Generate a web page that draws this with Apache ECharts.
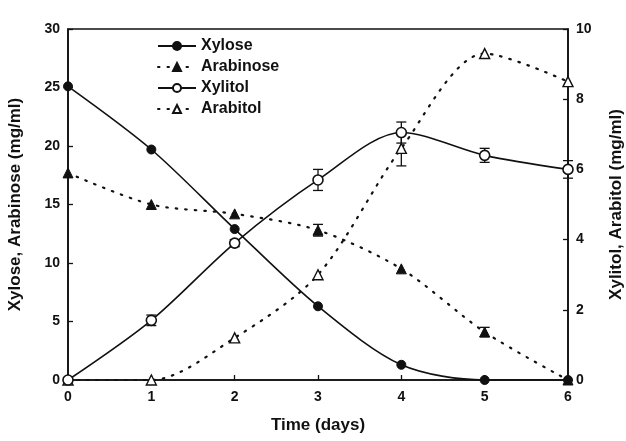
<!DOCTYPE html>
<html><head><meta charset="utf-8">
<script src="https://cdn.jsdelivr.net/npm/echarts@6/dist/echarts.min.js"></script>
<style>html,body{margin:0;padding:0;background:#fff}#c{width:626px;height:441px}</style>
</head><body><div id="c"></div>
<script>
const days = [0, 1, 2, 3, 4, 5, 6];
const xylose = [25.1, 19.7, 12.9, 6.3, 1.3, 0, 0];
const arabinose = [17.7, 15.0, 14.2, 12.8, 9.5, 4.1, 0];
const xylitol = [0, 1.7, 3.9, 5.7, 7.05, 6.4, 6.0];
const arabitol = [0, 0, 1.2, 3.0, 6.6, 9.3, 8.5];
const xylitolErr = [0, 0.15, 0.1, 0.3, 0.3, 0.2, 0.25];
const arabitolErr = [0, 0, 0, 0, 0.5, 0, 0];
const arabinoseErr = [0, 0, 0, 0.5, 0, 0.4, 0];
const leftTicks = [0, 5, 10, 15, 20, 25, 30];
const rightTicks = [0, 2, 4, 6, 8, 10];

const F = 'Liberation Sans, Arial, sans-serif';
const pairs = (ys) => days.map((d, i) => [d, ys[i]]);
const errData = (ys, es) => days.map((d, i) => [d, ys[i], es[i]]).filter(r => r[2] > 0);

function errSeries(ys, es, yIdx) {
  return {
    type: 'custom', yAxisIndex: yIdx, z: 1, silent: true,
    data: errData(ys, es),
    renderItem: function (params, api) {
      const x = api.value(0), y = api.value(1), e = api.value(2);
      const hi = api.coord([x, y + e]), lo = api.coord([x, y - e]);
      const w = 5;
      return {
        type: 'group', children: [
          {type: 'line', shape: {x1: hi[0], y1: hi[1], x2: lo[0], y2: lo[1]}, style: {stroke: '#111', lineWidth: 1.3}},
          {type: 'line', shape: {x1: hi[0]-w, y1: hi[1], x2: hi[0]+w, y2: hi[1]}, style: {stroke: '#111', lineWidth: 1.3}},
          {type: 'line', shape: {x1: lo[0]-w, y1: lo[1], x2: lo[0]+w, y2: lo[1]}, style: {stroke: '#111', lineWidth: 1.3}}
        ]
      };
    }
  };
}

const chart = echarts.init(document.getElementById('c'));
chart.setOption({
  animation: false,
  backgroundColor: '#fff',
  grid: {left: 68, right: 58, top: 29, bottom: 61, containLabel: false, outerBoundsMode: 'none',
    show: true, borderColor: '#111', borderWidth: 1.6, backgroundColor: 'transparent'},
  legend: {
    orient: 'vertical', left: 152, top: 33, itemGap: 5, itemWidth: 38, itemHeight: 10,
    textStyle: {fontFamily: F, fontWeight: 'bold', fontSize: 16, color: '#111'},
    data: ['Xylose', 'Arabinose', 'Xylitol', 'Arabitol']
  },
  xAxis: {
    type: 'value', min: 0, max: 6, interval: 1,
    name: 'Time (days)', nameLocation: 'middle', nameGap: 37,
    nameTextStyle: {fontFamily: F, fontWeight: 'bold', fontSize: 17, color: '#111'},
    axisLine: {lineStyle: {color: '#111', width: 1.6}},
    axisTick: {inside: true, length: 5, lineStyle: {color: '#111', width: 1.3}},
    axisLabel: {fontFamily: F, fontWeight: 'bold', fontSize: 14, color: '#111', margin: 10},
    splitLine: {show: false}
  },
  yAxis: [
    {
      type: 'value', min: 0, max: 30, interval: 5, position: 'left',
      name: 'Xylose, Arabinose (mg/ml)', nameLocation: 'middle', nameGap: 44, nameRotate: 90,
      nameTextStyle: {fontFamily: F, fontWeight: 'bold', fontSize: 17, color: '#111'},
      axisLine: {show: true, lineStyle: {color: '#111', width: 1.6}},
      axisTick: {show: true, inside: true, length: 5, lineStyle: {color: '#111', width: 1.3}},
      axisLabel: {fontFamily: F, fontWeight: 'bold', fontSize: 14, color: '#111', margin: 8,
        formatter: v => leftTicks.includes(v) ? String(v) : ''},
      splitLine: {show: false}
    },
    {
      type: 'value', min: 0, max: 10, interval: 2, position: 'right',
      name: 'Xylitol, Arabitol (mg/ml)', nameLocation: 'middle', nameGap: 40, nameRotate: 90,
      nameTextStyle: {fontFamily: F, fontWeight: 'bold', fontSize: 17, color: '#111'},
      axisLine: {show: true, lineStyle: {color: '#111', width: 1.6}},
      axisTick: {show: true, inside: true, length: 5, lineStyle: {color: '#111', width: 1.3}},
      axisLabel: {fontFamily: F, fontWeight: 'bold', fontSize: 14, color: '#111', margin: 8,
        formatter: v => rightTicks.includes(v) ? String(v) : ''},
      splitLine: {show: false}
    }
  ],
  series: [
    errSeries(xylitol, xylitolErr, 1),
    errSeries(arabitol, arabitolErr, 1),
    errSeries(arabinose, arabinoseErr, 0),
    {
      name: 'Xylose', type: 'line', yAxisIndex: 0, smooth: 0.3, data: pairs(xylose),
      symbol: 'circle', symbolSize: 9, z: 3,
      lineStyle: {color: '#111', width: 1.6},
      itemStyle: {color: '#111', borderColor: '#111', borderWidth: 1}
    },
    {
      name: 'Arabinose', type: 'line', yAxisIndex: 0, smooth: 0.3, data: pairs(arabinose),
      symbol: 'triangle', symbolSize: 10, z: 3,
      lineStyle: {color: '#111', width: 2.2, type: [1.5, 8], cap: 'round'},
      itemStyle: {color: '#111', borderColor: '#111', borderWidth: 1}
    },
    {
      name: 'Xylitol', type: 'line', yAxisIndex: 1, smooth: 0.3, data: pairs(xylitol),
      symbol: 'circle', symbolSize: 10, z: 4,
      lineStyle: {color: '#111', width: 1.6},
      itemStyle: {color: '#fff', borderColor: '#111', borderWidth: 1.6}
    },
    {
      name: 'Arabitol', type: 'line', yAxisIndex: 1, smooth: 0.3, data: pairs(arabitol),
      symbol: 'triangle', symbolSize: 10, z: 3,
      lineStyle: {color: '#111', width: 2.2, type: [1.5, 8], cap: 'round'},
      itemStyle: {color: '#fff', borderColor: '#111', borderWidth: 1.4}
    }
  ]
});
</script>
</body></html>
